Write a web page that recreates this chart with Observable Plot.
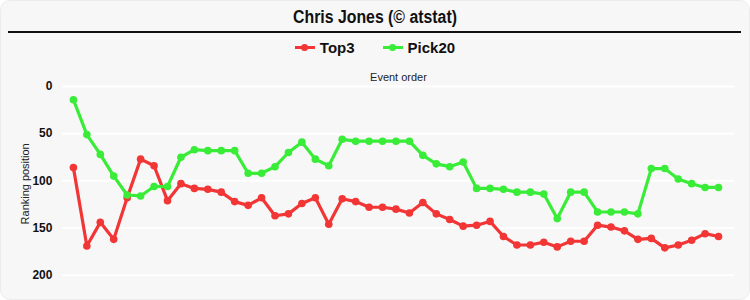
<!DOCTYPE html>
<html>
<head>
<meta charset="utf-8">
<script src="https://cdn.jsdelivr.net/npm/d3@7"></script>
<script src="https://cdn.jsdelivr.net/npm/@observablehq/plot@0.6"></script>
<style>
  html, body { margin: 0; padding: 0; background: #ffffff; }
  #panel {
    position: relative; width: 748px; height: 298px; background: #f7f7f7;
    border: 1px solid #ececec; border-radius: 10px; overflow: hidden;
    font-family: "Liberation Sans", Arial, sans-serif;
  }
  #title {
    position: absolute; left: 0; top: 6px; width: 748px; text-align: center;
    font-family: "Liberation Sans", Arial, sans-serif;
    font-weight: bold; font-size: 18px; color: #111;
    transform: scaleX(0.88); transform-origin: center;
  }
  #rule { position: absolute; left: 7px; top: 30px; width: 733px; height: 0; border-top: 2px solid #111; }
  #legend {
    position: absolute; left: 0; top: 38px; width: 748px; display: flex; justify-content: center; gap: 28px;
    font-family: "Liberation Sans", Arial, sans-serif;
    font-weight: bold; font-size: 15px; color: #111;
  }
  .item { display: flex; align-items: center; gap: 5px; }
  .sw { position: relative; width: 20px; height: 14px; }
  .sw .ln { position: absolute; left: 0; top: 5px; width: 20px; height: 3px; }
  .sw .dt { position: absolute; left: 6px; top: 3px; width: 7px; height: 7px; border-radius: 50%; }
  #chart { position: absolute; left: -1px; top: 59px; }
</style>
</head>
<body>
<div id="panel">
  <div id="title">Chris Jones (© atstat)</div>
  <div id="rule"></div>
  <div id="legend"></div>
  <div id="chart"></div>
</div>
<script>
const seriesNames = ["Top3", "Pick20"];
const seriesColors = ["#f23535", "#38ec38"];
const top3 = [86,169,144,162,118,77,84,121,103,108,109,112,122,126,118,137,135,124,118,146,119,122,128,128,130,134,123,135,141,148,147,143,159,168,168,165,170,164,164,147,149,153,162,161,171,168,163,156,159];
const pick20 = [14,51,72,95,115,116,106,106,75,67,68,68,68,92,92,85,70,59,77,84,56,58,58,58,58,58,73,82,85,80,108,108,109,112,112,114,140,112,112,133,133,133,135,87,87,98,103,107,107];
const yTicks = [0, 50, 100, 150, 200];
const xLabel = "Event order";
const yLabel = "Ranking position";

// legend
const legend = document.getElementById("legend");
seriesNames.forEach((n, i) => {
  const it = document.createElement("div"); it.className = "item";
  it.innerHTML = `<div class="sw"><div class="ln" style="background:${seriesColors[i]}"></div><div class="dt" style="background:${seriesColors[i]}"></div></div><span>${n}</span>`;
  legend.appendChild(it);
});

const data = [];
top3.forEach((v, i) => data.push({event: i, rank: v, series: "Top3"}));
pick20.forEach((v, i) => data.push({event: i, rank: v, series: "Pick20"}));

const plot = Plot.plot({
  width: 750,
  height: 240,
  marginLeft: 62,
  marginRight: 15,
  marginTop: 26,
  marginBottom: 25,
  style: {background: "transparent", fontFamily: "Liberation Sans, Arial, sans-serif"},
  x: {domain: [0, 48], insetLeft: 11, insetRight: 16, axis: null},
  y: {domain: [0, 200], reverse: true, ticks: yTicks, label: null, axis: null},
  color: {domain: seriesNames, range: seriesColors},
  marks: [
    Plot.ruleY(yTicks, {stroke: "#ffffff", strokeWidth: 2}),
    Plot.axisY({ticks: yTicks, tickSize: 0, tickPadding: 10, fontWeight: "bold", fontSize: 12, fill: "#111", label: null}),
    Plot.text([yLabel], {frameAnchor: "left", textAnchor: "middle", dx: 24 - 62 + 1, dy: 3, rotate: -90, fontSize: 11, fill: "#222"}),
    Plot.text([xLabel], {frameAnchor: "top", dy: -13, fontSize: 11, fill: "#222"}),
    Plot.line(data, {x: "event", y: "rank", z: "series", stroke: "series", strokeWidth: 3.2}),
    Plot.dot(data, {x: "event", y: "rank", fill: "series", r: 3.8})
  ]
});
document.getElementById("chart").appendChild(plot);
</script>
</body>
</html>
